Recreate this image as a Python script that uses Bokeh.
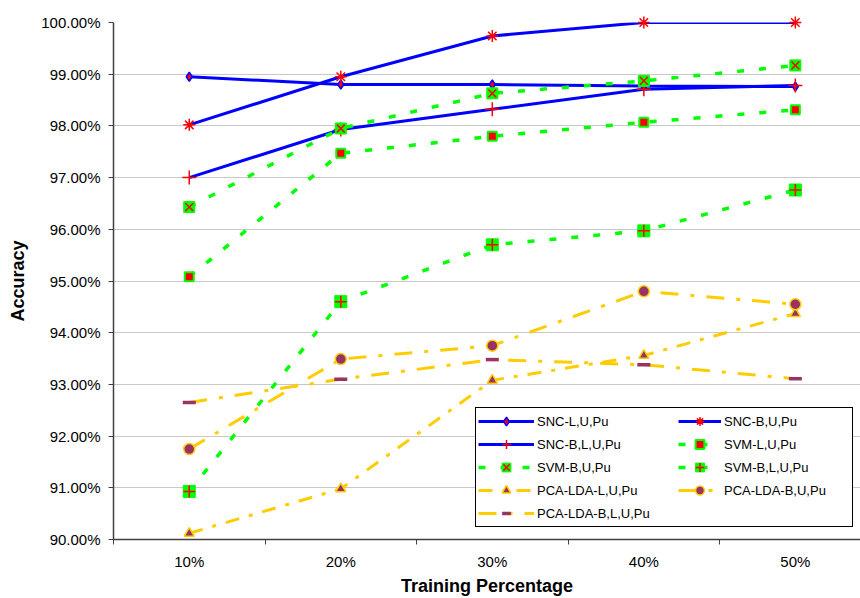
from bokeh.plotting import figure
from bokeh.models import (Range1d, FixedTicker, PrintfTickFormatter, Legend,
                          LegendItem, Grid)
from bokeh.embed import file_html
from bokeh.resources import INLINE

# ---------------- data ----------------
categories = ["10%", "20%", "30%", "40%", "50%"]
y_ticks = [90, 91, 92, 93, 94, 95, 96, 97, 98, 99, 100]

snc_l_u_pu = [98.95, 98.80, 98.80, 98.77, 98.76]
snc_b_u_pu = [98.02, 98.95, 99.74, 100.00, 100.00]
snc_b_l_u_pu = [97.00, 97.93, 98.32, 98.71, 98.78]
svm_l_u_pu = [95.08, 97.47, 97.80, 98.07, 98.31]
svm_b_u_pu = [96.43, 97.95, 98.63, 98.87, 99.17]
svm_b_l_u_pu = [90.93, 94.60, 95.70, 95.97, 96.76]
pca_l_u_pu = [90.12, 90.98, 93.08, 93.56, 94.37]
pca_b_u_pu = [91.75, 93.49, 93.75, 94.80, 94.55]
pca_b_l_u_pu = [92.65, 93.10, 93.48, 93.38, 93.11]

x = list(range(1, len(categories) + 1))

FONT = "Liberation Sans"
BLUE = "#0000FF"
GREEN = "#00FF00"
GOLD = "#FFCC00"
PURPLE = "#993366"
RED = "#FF0000"

p = figure(width=860, height=598, output_backend="svg", toolbar_location=None,
           x_range=Range1d(0.5, 5.43), y_range=Range1d(y_ticks[0], y_ticks[-1]),
           min_border_left=113, min_border_top=22, min_border_right=0,
           min_border_bottom=0)
p.outline_line_color = None
p.background_fill_color = "white"
p.border_fill_color = "white"

# axes
p.xaxis.ticker = FixedTicker(ticks=x, minor_ticks=[v - 0.5 for v in x])
p.xaxis.major_label_overrides = {v: c for v, c in zip(x, categories)}
p.xaxis.major_tick_out = 0
p.xaxis.major_tick_in = 0
p.xaxis.minor_tick_out = 5
p.xaxis.minor_tick_in = 0
p.xaxis.major_label_standoff = 8
p.xaxis.axis_label = "Training Percentage"
p.xaxis.axis_label_standoff = 3

p.yaxis.ticker = FixedTicker(ticks=y_ticks)
p.yaxis.formatter = PrintfTickFormatter(format="%.2f%%")
p.yaxis.major_tick_out = 5
p.yaxis.major_tick_in = 0
p.yaxis.minor_tick_out = 0
p.yaxis.minor_tick_in = 0
p.yaxis.major_label_standoff = 8
p.yaxis.axis_label = "Accuracy"
p.yaxis.axis_label_standoff = 10

for ax in (p.xaxis, p.yaxis):
    ax.axis_line_color = "#404040"
    ax.axis_line_width = 1.5
    ax.major_tick_line_color = "#404040"
    ax.minor_tick_line_color = "#404040"
    ax.major_tick_line_width = 1
    ax.minor_tick_line_width = 1
    ax.major_label_text_font = FONT
    ax.major_label_text_font_size = "15px"
    ax.major_label_text_color = "black"
    ax.axis_label_text_font = FONT
    ax.axis_label_text_font_size = "18px"
    ax.axis_label_text_font_style = "bold"
    ax.axis_label_text_color = "black"

p.xgrid.visible = False
p.ygrid.grid_line_color = "#c8c8c8"
p.ygrid.grid_line_width = 1
p.add_layout(Grid(dimension=1, ticker=FixedTicker(ticks=[y_ticks[-1]]),
                  grid_line_color="#8c8c8c", grid_line_width=1.2))


def series(y, color, width, dash, markers):
    rs = [p.line(x, y, line_color=color, line_width=width, line_dash=dash)]
    for m in markers:
        rs.append(p.scatter(x, y, level="overlay", **m))
    return rs


r_snc_l = series(snc_l_u_pu, BLUE, 3, "solid",
                 [dict(marker="diamond", size=9, fill_color=RED, line_color=BLUE, line_width=1.5)])
r_snc_b = series(snc_b_u_pu, BLUE, 3, "solid",
                 [dict(marker="asterisk", size=12, line_color=RED, line_width=1.5)])
r_snc_bl = series(snc_b_l_u_pu, BLUE, 3, "solid",
                  [dict(marker="cross", size=14, line_color=RED, line_width=1.5)])
r_svm_l = series(svm_l_u_pu, GREEN, 3.5, "7 15",
                 [dict(marker="square", size=9, fill_color=RED, line_color=GREEN, line_width=2)])
r_svm_b = series(svm_b_u_pu, GREEN, 3.5, "7 15",
                 [dict(marker="square", size=11, fill_color=GREEN, line_color=GREEN, line_width=1),
                  dict(marker="x", size=11, line_color=RED, line_width=1.5)])
r_svm_bl = series(svm_b_l_u_pu, GREEN, 3.5, "7 15",
                  [dict(marker="square", size=12, fill_color=GREEN, line_color=GREEN, line_width=1),
                   dict(marker="cross", size=12, line_color=RED, line_width=1.5)])
r_pca_l = series(pca_l_u_pu, GOLD, 3, "14 10 4 10",
                 [dict(marker="triangle", size=10, fill_color=PURPLE, line_color=GOLD, line_width=1.5)])
r_pca_b = series(pca_b_u_pu, GOLD, 3, "18 12 4 12",
                 [dict(marker="circle", size=11, fill_color=PURPLE, line_color=GOLD, line_width=1.5)])
r_pca_bl = series(pca_b_l_u_pu, GOLD, 3, "18 12 4 12",
                  [dict(marker="dash", size=13, line_color=PURPLE, line_width=3.5)])

common = dict(label_text_font=FONT, label_text_font_size="13px",
              label_text_color="black", padding=2, spacing=1,
              label_height=22, glyph_height=22, label_standoff=3, margin=0)

leg_a = Legend(items=[LegendItem(label="SNC-L,U,Pu", renderers=r_snc_l),
                      LegendItem(label="SNC-B,L,U,Pu", renderers=r_snc_bl),
                      LegendItem(label="SVM-B,U,Pu", renderers=r_svm_b),
                      LegendItem(label="PCA-LDA-L,U,Pu", renderers=r_pca_l),
                      LegendItem(label="PCA-LDA-B,L,U,Pu", renderers=r_pca_bl)],
               location=(362, 12), glyph_width=56, label_width=313,
               border_line_color="black", border_line_width=1, border_line_alpha=1,
               background_fill_color="white", background_fill_alpha=1, **common)
leg_b = Legend(items=[LegendItem(label="SNC-B,U,Pu", renderers=r_snc_b),
                      LegendItem(label="SVM-L,U,Pu", renderers=r_svm_l),
                      LegendItem(label="SVM-B,L,U,Pu", renderers=r_svm_bl),
                      LegendItem(label="PCA-LDA-B,U,Pu", renderers=r_pca_b)],
               location=(565, 38), glyph_width=43,
               border_line_color=None, background_fill_alpha=0, **common)
p.add_layout(leg_a)
p.add_layout(leg_b)

open("out.html", "w").write(file_html(p, INLINE))
